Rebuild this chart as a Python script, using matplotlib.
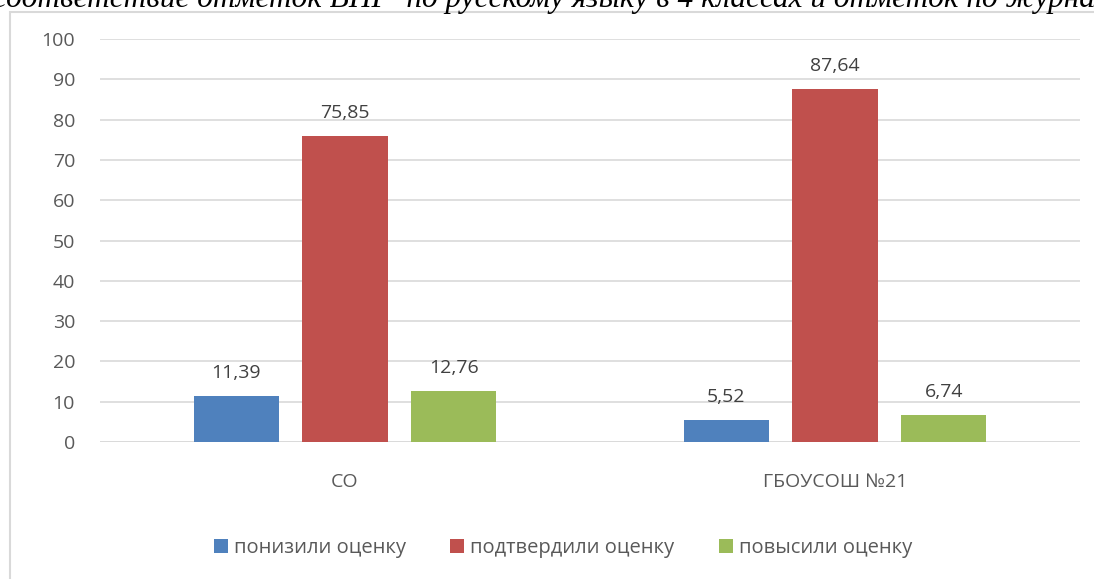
import matplotlib.pyplot as plt
import matplotlib.patches as mpatches
import numpy as np

plt.rcParams['font.family'] = ['Open Sans', 'DejaVu Sans']

categories = ['СО', 'ГБОУСОШ №21']
series_names = ['понизили оценку', 'подтвердили оценку', 'повысили оценку']
lowered = [11.39, 5.52]
confirmed = [75.85, 87.64]
raised = [12.76, 6.74]
colors = ['#4f81bd', '#c0504d', '#9bbb59']
title_text = 'соответствие отметок ВПР  по русскому языку в 4 классах и отметок по журналу'

fig = plt.figure(figsize=(10.94, 5.79), dpi=100)

# chart frame (cut off on the right and bottom)
frame = mpatches.Rectangle((10 / 1094, -0.1), 1.2, 1 - 12 / 579 + 0.1,
                           transform=fig.transFigure, fill=False,
                           edgecolor='#d9d9d9', linewidth=1.5)
fig.patches.append(frame)

# clipped caption line above the chart
fig.text(-0.006, 1 - 7 / 579, title_text, fontsize=22.5, style='italic',
         family='Liberation Serif', ha='left', va='baseline', color='black')

ax = fig.add_axes([100 / 1094, 137 / 579, 980 / 1094, 403 / 579])

x = np.arange(len(categories))
step = 0.2224
width = 0.1735
for i, (vals, name) in enumerate(zip([lowered, confirmed, raised], series_names)):
    pos = x + (i - 1) * step
    bars = ax.bar(pos, vals, width, color=colors[i], label=name, zorder=3)
    for b, v in zip(bars, vals):
        ax.annotate(f'{v:.2f}'.replace('.', ','),
                    (b.get_x() + b.get_width() / 2, v),
                    xytext=(0, 10), textcoords='offset points',
                    ha='center', va='bottom', fontsize=14, color='#404040')

ax.set_xlim(-0.5, 1.5)
ax.set_ylim(0, 100)
ax.set_yticks(range(0, 101, 10))
ax.set_xticks(x)
ax.set_xticklabels(categories)
ax.yaxis.grid(True, color='#d9d9d9', linewidth=1.2, zorder=0)
ax.set_axisbelow(True)
for s in ax.spines.values():
    s.set_visible(False)
ax.axhline(0, color='#d9d9d9', linewidth=1.2, zorder=1)
ax.tick_params(axis='y', length=0, pad=18, labelsize=14, labelcolor='#595959')
ax.tick_params(axis='x', length=0, pad=22, labelsize=14, labelcolor='#595959')

handles, labels = ax.get_legend_handles_labels()
leg = fig.legend(handles, labels, loc='center', ncol=3,
                 bbox_to_anchor=(563 / 1094, 1 - 548 / 579),
                 frameon=False, fontsize=14.5, handlelength=0.7, handleheight=0.7,
                 handletextpad=0.3, columnspacing=2.2)
for t in leg.get_texts():
    t.set_color('#595959')

fig.savefig('out.png', dpi=100)
